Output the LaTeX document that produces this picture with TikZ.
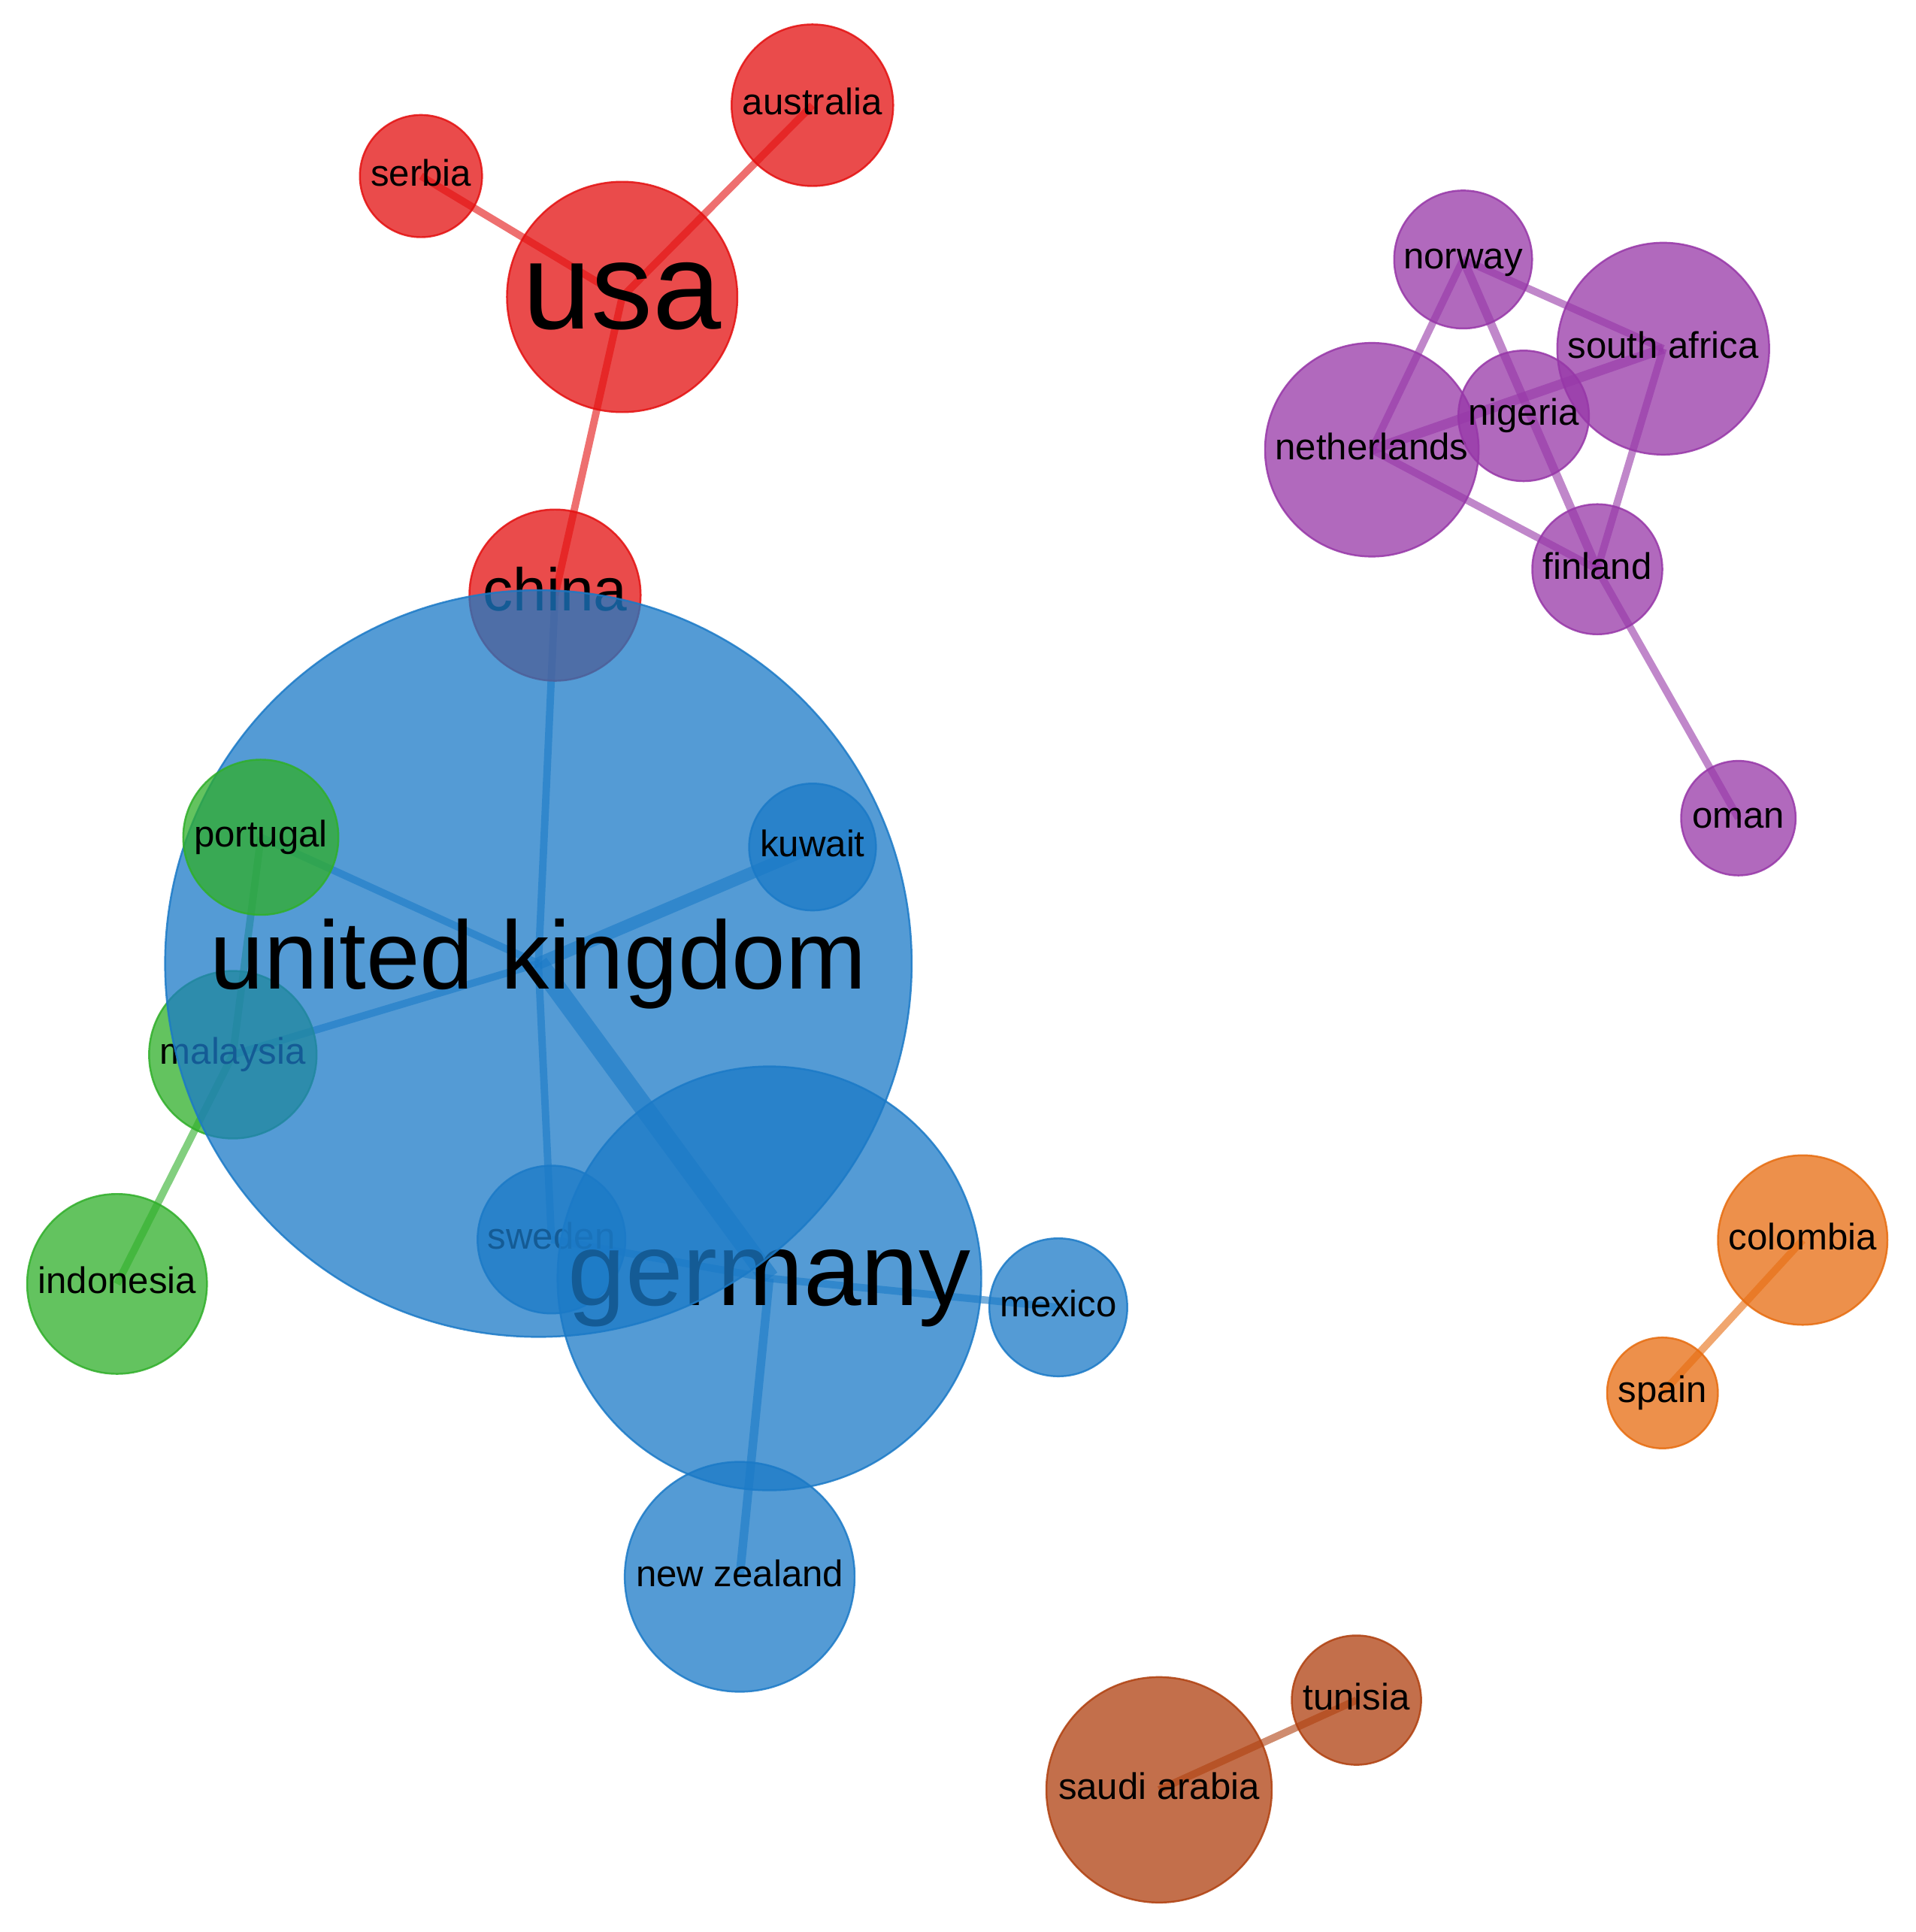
\documentclass[tikz,border=0pt]{standalone}
\usepackage{fontspec}
\setmainfont{Liberation Sans}
\pgfdeclarelayer{back}
\pgfdeclarelayer{bg}
\pgfsetlayers{back,bg,main}
\definecolor{cred}{RGB}{228,16,16}
\definecolor{cblue}{RGB}{27,122,199}
\definecolor{cgreen}{RGB}{48,175,42}
\definecolor{cpurple}{RGB}{151,55,168}
\definecolor{corange}{RGB}{231,108,15}
\definecolor{cbrown}{RGB}{176,64,15}
\tikzset{
  bub/.style={circle, inner sep=0pt, fill=#1, draw=#1, fill opacity=0.75, draw opacity=0.85, line width=1.5pt},
  lab/.style={anchor=base, inner sep=0pt, text=black},
  link/.style={draw=#1, draw opacity=0.6, line width=6pt},
}
\newcommand\country[6]{%
  \node[bub=#4, minimum size={2*#3}] (#1) at (#2) {};
  \node[lab, font=\fontsize{#5}{#5}\selectfont] (#1-t) at ([yshift={-0.26*#5}]#1.center) {#6};}
\begin{document}
\begin{tikzpicture}[x=1pt,y=-1pt]
\begin{pgfonlayer}{back}
\fill[white] (0,0) rectangle (1555,1568);
\end{pgfonlayer}
\useasboundingbox (0,0) rectangle (1555,1568);
% blue / green / red cluster
\country{sweden}{447.6,1006}{60}{cblue}{30}{sweden}
\country{germany}{624.5,1037.5}{172}{cblue}{84}{germany}
\country{china}{450.5,483}{69.5}{cred}{49}{china}
\country{malaysia}{189,856}{68}{cgreen}{30}{malaysia}
\country{uk}{437,782}{303}{cblue}{78.5}{united kingdom}
\country{portugal}{211.7,679.5}{63}{cgreen}{30}{portugal}
\country{kuwait}{659.5,687.4}{51.5}{cblue}{30}{kuwait}
\country{mexico}{859,1061}{56}{cblue}{30}{mexico}
\country{nz}{600.4,1279.7}{93.3}{cblue}{30}{new zealand}
\country{indonesia}{95,1042}{73}{cgreen}{30}{indonesia}
\country{usa}{505,241}{93.5}{cred}{100}{usa}
\country{australia}{659.4,85.4}{65.6}{cred}{30}{australia}
\country{serbia}{341.7,142.9}{49.6}{cred}{30}{serbia}
% purple cluster
\country{norway}{1187.6,210.6}{56}{cpurple}{30}{norway}
\country{safrica}{1350,283}{86}{cpurple}{30}{south africa}
\country{netherlands}{1113.5,365}{86.7}{cpurple}{30}{netherlands}
\country{nigeria}{1236.7,337.5}{53}{cpurple}{30}{nigeria}
\country{finland}{1296.5,462}{52.8}{cpurple}{30}{finland}
\country{oman}{1411,664}{46.5}{cpurple}{30}{oman}
% orange and brown
\country{colombia}{1463.2,1006.4}{68.8}{corange}{30}{colombia}
\country{spain}{1349.4,1130.5}{45}{corange}{30}{spain}
\country{saudi}{940.8,1452.6}{91.5}{cbrown}{30}{saudi arabia}
\country{tunisia}{1101,1379.8}{52.5}{cbrown}{30}{tunisia}
% links
\begin{pgfonlayer}{bg}
\draw[link=cred] (usa.center) -- (serbia.center);
\draw[link=cred] (usa.center) -- (australia.center);
\draw[link=cred] (usa.center) -- (china.center);
\draw[link=cblue] (china.center) -- (uk.center);
\draw[link=cblue] (uk.center) -- (sweden.center);
\draw[link=cblue, line width=10pt] (uk.center) -- (kuwait.center);
\draw[link=cblue] (uk.center) -- (portugal.center);
\draw[link=cblue] (uk.center) -- (malaysia.center);
\draw[link=cblue, line width=16pt] (uk.center) -- (germany.center);
\draw[link=cblue] (sweden.center) -- (germany.center);
\draw[link=cblue] (germany.center) -- (mexico.center);
\draw[link=cblue, line width=7pt] (germany.center) -- (nz.center);
\draw[link=cgreen] (portugal.center) -- (malaysia.center);
\draw[link=cgreen] (malaysia.center) -- (indonesia.center);
\draw[link=cpurple] (norway.center) -- (safrica.center);
\draw[link=cpurple] (norway.center) -- (netherlands.center);
\draw[link=cpurple, line width=7pt] (norway.center) -- (finland.center);
\draw[link=cpurple, line width=8pt] (netherlands.center) -- (safrica.center);
\draw[link=cpurple] (netherlands.center) -- (finland.center);
\draw[link=cpurple] (safrica.center) -- (finland.center);
\draw[link=cpurple] (finland.center) -- (oman.center);
\draw[link=corange] (colombia.center) -- (spain.center);
\draw[link=cbrown] (saudi.center) -- (tunisia.center);
\end{pgfonlayer}
\end{tikzpicture}
\end{document}
